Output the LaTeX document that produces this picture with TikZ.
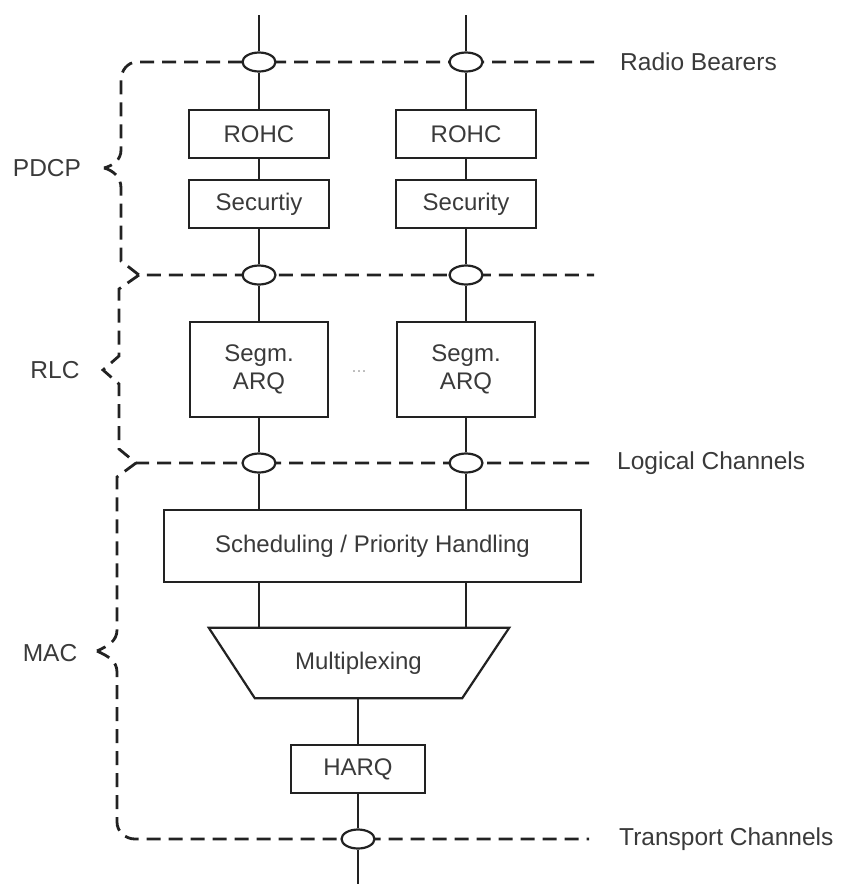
\documentclass[tikz,border=0pt]{standalone}
\usepackage{fontspec}
\setmainfont{Liberation Sans}
\usetikzlibrary{shapes.geometric}
\definecolor{ink}{HTML}{222222}
\definecolor{txt}{HTML}{3A3A3A}
\tikzset{
  boxstyle/.style={draw=ink, line width=2.2pt, fill=white, text=txt, inner sep=0pt,
    font=\fontsize{24}{28}\selectfont, align=center},
  port/.style={ellipse, draw=ink, line width=2.2pt, fill=white, inner sep=0pt,
    minimum width=33pt, minimum height=19pt},
  wire/.style={draw=ink, line width=2.2pt},
  bound/.style={draw=ink, line width=2.8pt, dash pattern=on 14pt off 8pt},
  lab/.style={text=txt, inner sep=0pt, font=\fontsize{24.5}{28}\selectfont},
}
\begin{document}
\begin{tikzpicture}[x=1pt,y=-1pt]
\useasboundingbox (0,0) rectangle (848,884);

% free ends of the vertical data paths
\coordinate (top1) at (259,15);
\coordinate (top2) at (466,15);
\coordinate (bot)  at (358,884);

% right ends of the layer boundaries
\coordinate (rbend) at (594,62);
\coordinate (prend) at (594,275);
\coordinate (lcend) at (592,463);
\coordinate (tcend) at (589,839);

% layer boundaries with their braces
\draw[bound] (rbend) -- (137,62) to[out=180,in=90] (121,80) -- (121,150)
  to[out=-90,in=15] (104,168);
\draw[bound] (104,168) to[out=-15,in=90] (121,188) -- (121,261) -- (139,275) -- (prend);
\draw[bound] (139,275) -- (119,289) -- (119,356) -- (103,370) -- (119,384)
  -- (119,449) -- (136,463) -- (lcend);
\draw[bound] (136,463) -- (117,477) -- (117,630) to[out=-90,in=25] (97,651);
\draw[bound] (97,651) to[out=-25,in=90] (117,672) -- (117,822)
  to[out=-90,in=180] (135,839) -- (tcend);

% service access points
\node[port] (rb1) at (259,62) {};
\node[port] (rb2) at (466,62) {};
\node[port] (pr1) at (259,275) {};
\node[port] (pr2) at (466,275) {};
\node[port] (lc1) at (259,463) {};
\node[port] (lc2) at (466,463) {};
\node[port] (tc)  at (358,839) {};

% PDCP entities
\node[boxstyle, minimum width=140pt, minimum height=48pt] (rohc1) at (259,134) {ROHC};
\node[boxstyle, minimum width=140pt, minimum height=48pt] (rohc2) at (466,134) {ROHC};
\node[boxstyle, minimum width=140pt, minimum height=48pt] (sec1) at (259,204) {Securtiy};
\node[boxstyle, minimum width=140pt, minimum height=48pt] (sec2) at (466,204) {Security};

% RLC entities
\node[boxstyle, minimum width=138pt, minimum height=95pt] (arq1) at (259,369.5) {Segm.\\ARQ};
\node[boxstyle, minimum width=138pt, minimum height=95pt] (arq2) at (466,369.5) {Segm.\\ARQ};
\node[text=gray!60, font=\fontsize{18}{20}\selectfont, inner sep=0pt] (dots) at (359,372) {...};

% MAC entities
\node[boxstyle, minimum width=417pt, minimum height=72pt] (sched) at (372.5,546)
  {Scheduling / Priority Handling};
\node[text=txt, inner sep=0pt, minimum width=207pt, minimum height=70pt,
  font=\fontsize{24}{28}\selectfont] (mux) at (358.5,663) {Multiplexing};
\draw[wire, line join=miter] (mux.south west) -- (mux.south east)
  -- ([xshift=47pt]mux.north east) -- ([xshift=-46pt]mux.north west) -- cycle;
\node[boxstyle, minimum width=134pt, minimum height=48pt] (harq) at (358,769) {HARQ};

% data paths
\draw[wire] (top1) -- (rb1);
\draw[wire] (top2) -- (rb2);
\draw[wire] (rb1) -- (rohc1);
\draw[wire] (rb2) -- (rohc2);
\draw[wire] (rohc1) -- (sec1);
\draw[wire] (rohc2) -- (sec2);
\draw[wire] (sec1) -- (pr1);
\draw[wire] (sec2) -- (pr2);
\draw[wire] (pr1) -- (arq1);
\draw[wire] (pr2) -- (arq2);
\draw[wire] (arq1) -- (lc1);
\draw[wire] (arq2) -- (lc2);
\draw[wire] (lc1) -- (sched.north -| lc1);
\draw[wire] (lc2) -- (sched.north -| lc2);
\draw[wire] (sched.south -| lc1) -- (mux.north -| lc1);
\draw[wire] (sched.south -| lc2) -- (mux.north -| lc2);
\draw[wire] (mux.south -| harq) -- (harq);
\draw[wire] (harq) -- (tc);
\draw[wire] (tc) -- (bot);

% boundary and layer labels
\node[lab, anchor=west] (rblab) at (620,62) {Radio Bearers};
\node[lab, anchor=west] (lclab) at (617,463) {Logical Channels};
\node[lab, anchor=west] (tclab) at (619,839) {Transport Channels};
\node[lab] (pdcp) at (47,168) {PDCP};
\node[lab] (rlc)  at (55,370) {RLC};
\node[lab] (mac)  at (50,653) {MAC};
\end{tikzpicture}
\end{document}
